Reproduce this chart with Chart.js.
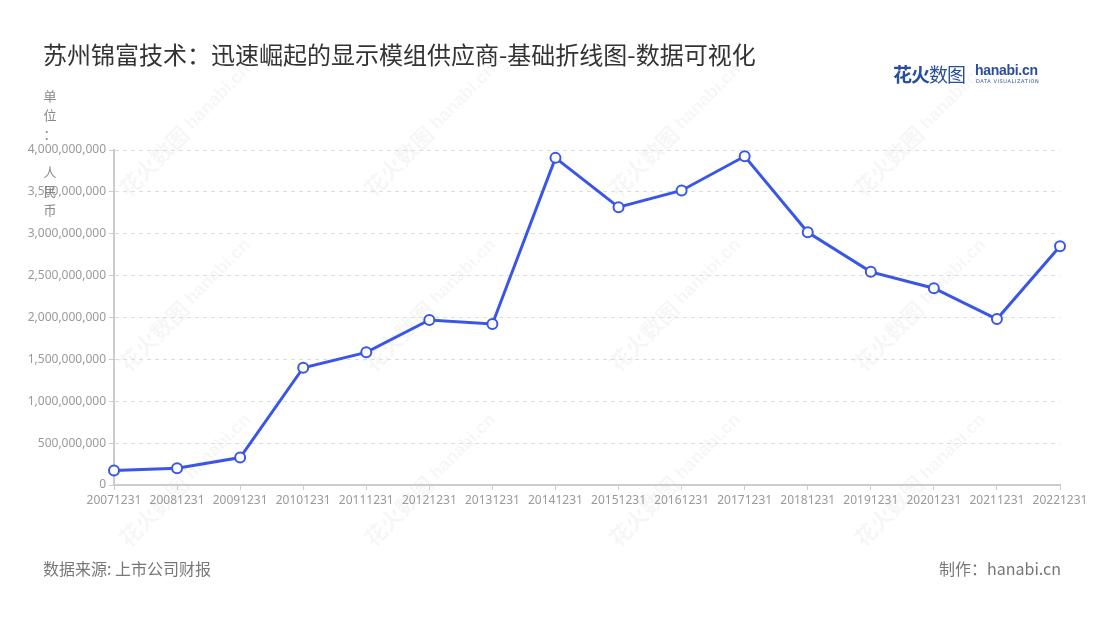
<!DOCTYPE html>
<html>
<head>
<meta charset="utf-8">
<script src="https://cdn.jsdelivr.net/npm/chart.js@4"></script>
<style>
  body { margin: 0; background: #fff; font-family: "Noto Sans CJK SC", "Noto Sans", sans-serif; }
  #wrap { position: relative; width: 1100px; height: 620px; overflow: hidden; }
  #chart { position: absolute; left: 0; top: 0; }
  .title { position: absolute; left: 43px; top: 36px; font-size: 24px; color: #333; }
  .unit { position: absolute; left: 42px; top: 86px; font-size: 13px; line-height: 19px; color: #888; width: 16px; text-align: center; }
  .logo { position: absolute; left: 893px; top: 60px; height: 24px; }
  .logo .cn { position: absolute; left: 0; top: 0; font-size: 19px; font-weight: bold; color: #2a4e9e; white-space: nowrap; letter-spacing: -1px; }
  .logo .en { position: absolute; left: 82px; top: 2px; font-size: 14px; font-weight: bold; color: #2a4e9e; font-family: "Liberation Sans", sans-serif; letter-spacing: -0.3px; }
  .logo .sub { position: absolute; left: 83px; top: 18px; font-size: 5px; color: #2a4e9e; letter-spacing: 0.6px; white-space: nowrap; font-family: "DejaVu Sans", sans-serif; }
  .foot { position: absolute; top: 556px; font-size: 16px; color: #777; }
</style>
</head>
<body>
<div id="wrap">
  <canvas id="chart" width="1100" height="620"></canvas>
  <div class="title">苏州锦富技术：迅速崛起的显示模组供应商-基础折线图-数据可视化</div>
  <div class="unit">单<br>位<br>：<br><br>人<br>民<br>币</div>
  <div class="logo"><span class="cn">花火<span style="font-weight:normal">数图</span></span><span class="en">hanabi.cn</span><span class="sub">DATA VISUALIZATION</span></div>
  <div class="foot" style="left:43px">数据来源: 上市公司财报</div>
  <div class="foot" style="right:39px">制作：hanabi.cn</div>
</div>
<script>
const years = ['20071231', '20081231', '20091231', '20101231', '20111231', '20121231', '20131231', '20141231',
  '20151231', '20161231', '20171231', '20181231', '20191231', '20201231', '20211231', '20221231'];
const revenue = [172000000, 200000000, 328000000, 1400000000, 1584000000, 1970000000, 1922000000, 3906000000,
  3317000000, 3517000000, 3925000000, 3017000000, 2545000000, 2349000000, 1981000000, 2850000000];
const yTicksMax = 4000000000;
const yTickStep = 500000000;

// faint diagonal "花火数图 hanabi.cn" marks behind the chart
const watermark = {
  id: 'watermark',
  beforeDraw(chart) {
    const ctx = chart.ctx;
    const xs = [185, 430, 675, 920];
    const ys = [130, 305, 480];
    ctx.save();
    ctx.fillStyle = 'rgba(0,0,0,0.035)';
    ys.forEach(y => xs.forEach(x => {
      ctx.save();
      ctx.translate(x, y);
      ctx.rotate(-Math.PI / 4);
      ctx.font = 'bold 22px "Noto Sans CJK SC"';
      ctx.textAlign = 'right';
      ctx.textBaseline = 'middle';
      ctx.fillText('花火数图', 0, 0);
      ctx.font = 'bold 18px "Liberation Sans"';
      ctx.textAlign = 'left';
      ctx.fillText(' hanabi.cn', 0, 0);
      ctx.restore();
    }));
    ctx.restore();
  }
};

new Chart(document.getElementById('chart').getContext('2d'), {
  type: 'line',
  data: {
    labels: years,
    datasets: [{
      data: revenue,
      borderColor: '#3a56e6',
      borderWidth: 3,
      tension: 0,
      pointRadius: 5,
      pointBorderWidth: 2,
      pointBackgroundColor: '#fff',
      pointBorderColor: '#3a56e6'
    }]
  },
  options: {
    responsive: false,
    animation: false,
    layout: { padding: { top: 150, right: 40, bottom: 105, left: 0 } },
    plugins: { legend: { display: false }, tooltip: { enabled: false } },
    scales: {
      x: {
        type: 'category',
        offset: false,
        afterFit: scale => { scale.height = 30; },
        ticks: {
          autoSkip: false, maxRotation: 0, padding: 3,
          color: '#999', font: { size: 12, family: 'Noto Sans' }
        },
        grid: { drawOnChartArea: false, color: '#ccc', tickLength: 5 },
        border: { color: '#ccc', width: 2 }
      },
      y: {
        min: 0,
        max: yTicksMax,
        afterFit: scale => { scale.width = 114; },
        ticks: {
          stepSize: yTickStep, padding: 3,
          color: '#999', font: { size: 12, family: 'Noto Sans' },
          callback: v => v.toLocaleString('en-US')
        },
        grid: { color: '#ddd', tickLength: 5, tickColor: '#ccc', tickBorderDash: [] },
        border: { color: '#ccc', width: 2, dash: [4, 4] }
      }
    }
  },
  plugins: [watermark]
});
</script>
</body>
</html>
